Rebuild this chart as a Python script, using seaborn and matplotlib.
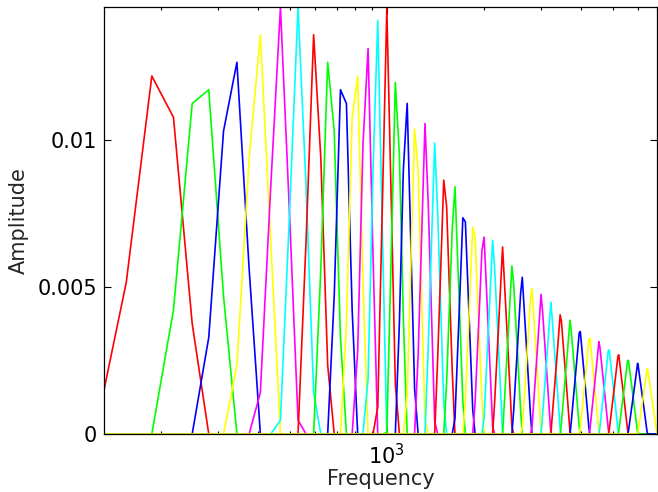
import numpy as np
import pandas as pd
import matplotlib
matplotlib.use('Agg')
import matplotlib.pyplot as plt
import seaborn as sns
from matplotlib.ticker import FixedLocator, NullFormatter

# Filter edge frequencies (Hz): 13 linear steps, then log-spaced steps
edge_freqs = [133.33, 200.00, 266.67, 333.33, 400.00, 466.67, 533.33, 600.00,
              666.67, 733.33, 800.00, 866.67, 933.33,
              999.76, 1070.91, 1147.13, 1228.77, 1316.22, 1409.90, 1510.24,
              1617.72, 1732.86, 1856.18, 1988.29, 2129.80, 2281.37, 2443.74,
              2617.66, 2803.96, 3003.52, 3217.28, 3446.25, 3691.52, 3954.25,
              4235.67, 4537.12, 4860.03, 5205.92, 5576.42, 5973.30, 6398.43,
              6853.80]

# FFT bins the filters are sampled on (16 kHz, 512 point FFT)
bin_step = 31.25
first_bin = 4
last_bin = 220

line_colors = ['#ff0000', '#00ff00', '#0000ff', '#ffff00', '#ff00ff', '#00ffff']

y_ticks = [0, 0.005, 0.01]
y_tick_labels = ['0', '0.005', '0.01']
x_major = [1000]
x_minor = [200, 300, 400, 500, 600, 700, 800, 900, 2000, 3000, 4000, 5000, 6000]

# build the long table: one triangle per filter
bins = np.arange(first_bin, last_bin + 1) * bin_step
rows = []
n_filters = len(edge_freqs) - 2
for i in range(n_filters):
    lo, mid, hi = edge_freqs[i], edge_freqs[i + 1], edge_freqs[i + 2]
    height = 2.0 / (hi - lo)
    up = (bins - lo) / (mid - lo)
    down = (hi - bins) / (hi - mid)
    w = np.clip(np.minimum(up, down), 0, None) * height
    for f, a in zip(bins, w):
        rows.append((i, f, a))
df = pd.DataFrame(rows, columns=['filter', 'freq', 'amp'])

sns.set_style('ticks')
plt.rcParams['font.family'] = ['DejaVu Sans']
plt.rcParams['mathtext.fontset'] = 'dejavusans'

fig = plt.figure(figsize=(6.58, 4.92), dpi=100)
ax = fig.add_axes([0.158, 0.118, 0.8405, 0.8675])

palette = [line_colors[i % len(line_colors)] for i in range(n_filters)]
sns.lineplot(data=df, x='freq', y='amp', hue='filter', palette=palette,
             legend=False, estimator=None, sort=False, linewidth=1.2, ax=ax)

# tight axes, like the original
ax.set_xscale('log')
ax.set_xlim(edge_freqs[0], edge_freqs[-1])
ax.set_ylim(0, df['amp'].max())

ax.xaxis.set_major_locator(FixedLocator(x_major))
ax.xaxis.set_minor_locator(FixedLocator(x_minor))
ax.xaxis.set_minor_formatter(NullFormatter())
ax.set_xticklabels([r'$\mathregular{10^3}$'])
ax.set_yticks(y_ticks)
ax.set_yticklabels(y_tick_labels)

ax.tick_params(which='both', direction='in', top=True, right=True,
               colors='black', labelsize=15, width=0.8)
ax.tick_params(which='major', length=5)
ax.tick_params(which='minor', length=2.5)
ax.tick_params(axis='x', pad=6.5)
ax.tick_params(axis='y', pad=5)
for s in ax.spines.values():
    s.set_color('black')
    s.set_linewidth(0.9)

ax.set_xlabel('Frequency', fontsize=15, labelpad=0.5)
ax.set_ylabel('Amplitude', fontsize=15, labelpad=6)

fig.savefig('out.png', dpi=100)
